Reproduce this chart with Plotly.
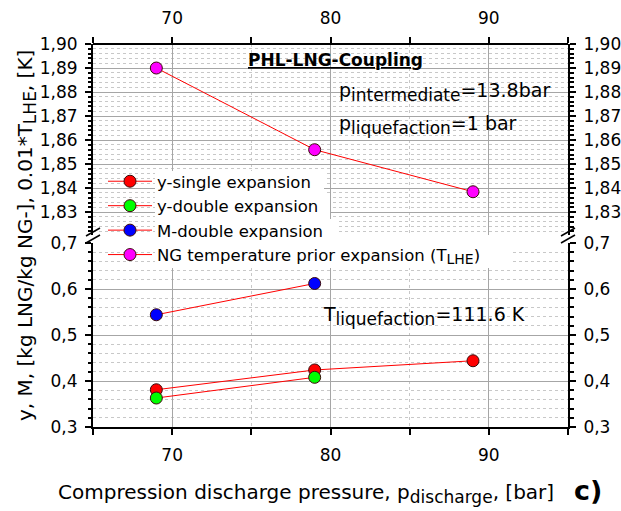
import plotly.graph_objects as go

# ---------------- data ----------------
pressure = [69, 79, 89]
y_single = [0.381, 0.424, 0.444]
pressure_double = [69, 79]
y_double = [0.363, 0.408]
m_double = [0.544, 0.612]
t_lhe_scaled = [1.890, 1.856, 1.8385]

series_names = ["y-single expansion", "y-double expansion", "M-double expansion",
                "NG temperature prior expansion (T<sub><span style='font-size:14px'>LHE</span></sub>)"]

# ---------------- geometry helpers ----------------
W, H = 621, 511
ML, MR, MT, MB = 93, 53, 44, 84
PW, PH = W - ML - MR, H - MT - MB
UP_BOTTOM, LOW_TOP = 235, 243


def xp(px):
    return (px - ML) / PW


def yp(py):
    return (H - MB - py) / PH


LOW_DOM = [0, yp(LOW_TOP)]
UP_DOM = [yp(UP_BOTTOM), 1]

FONT = "DejaVu Sans, Liberation Sans, Arial, sans-serif"
RED = "#ff0000"
EDGE = "#3b0a0a"

fig = go.Figure()


def add(xv, yv, color, name, yaxis):
    fig.add_trace(go.Scatter(
        x=xv, y=yv, mode="lines+markers", name=name, yaxis=yaxis,
        line=dict(color=RED, width=1),
        marker=dict(size=12, color=color, line=dict(color=EDGE, width=1)),
    ))


add(pressure, y_single, "#ff0000", series_names[0], "y")
add(pressure_double, y_double, "#00ff00", series_names[1], "y")
add(pressure_double, m_double, "#0000ff", series_names[2], "y")
add(pressure, t_lhe_scaled, "#ff00ff", series_names[3], "y2")

# invisible helpers to activate mirrored axes
for xa, ya, yv in [("x2", "y2", t_lhe_scaled), ("x", "y3", y_single), ("x", "y4", t_lhe_scaled)]:
    fig.add_trace(go.Scatter(x=pressure, y=yv, xaxis=xa, yaxis=ya, mode="markers",
                             marker=dict(opacity=0), showlegend=False, hoverinfo="skip"))

GRID = "#a6a6a6"
MINOR = "#c8c8c8"
tickfont = dict(family=FONT, size=17, color="black")

common_x = dict(range=[65, 95], tick0=70, dtick=10, ticks="outside", ticklen=6, tickwidth=1.5,
                tickcolor="black", showline=True, linecolor="black", linewidth=2,
                tickfont=tickfont, zeroline=False, automargin=False)


def yax(rng, dt, t0, fmt, mdt, grid, **kw):
    d = dict(range=rng, dtick=dt, tick0=t0, tickformat=fmt,
             ticks="outside", ticklen=6, tickwidth=1.5, tickcolor="black",
             showline=True, linecolor="black", linewidth=2, tickfont=tickfont,
             zeroline=False, anchor="x", ticklabelstandoff=4, automargin=False,
             showgrid=grid, gridcolor=GRID,
             minor=dict(dtick=mdt, ticks="outside", ticklen=3.5, tickcolor="black",
                        showgrid=grid, gridcolor=MINOR, griddash="dot"))
    d.update(kw)
    return d


fig.update_layout(
    width=W, height=H, autosize=False,
    margin=dict(l=ML, r=MR, t=MT, b=MB, autoexpand=False),
    paper_bgcolor="white", plot_bgcolor="white",
    separators=",.",
    showlegend=True,
    legend=dict(x=xp(103), y=yp(164), xanchor="left", yanchor="top",
                bgcolor="rgba(0,0,0,0)", borderwidth=0, itemwidth=44,
                font=dict(family=FONT, size=16.5, color="black"), tracegroupgap=0),
    xaxis=dict(**common_x, anchor="y", showgrid=True, gridcolor=GRID, gridwidth=1,
               ticklabelstandoff=6,
               minor=dict(tick0=65, dtick=5, ticks="outside", ticklen=6, tickcolor="black",
                          showgrid=True, gridcolor=MINOR, griddash="dot", gridwidth=1)),
    xaxis2=dict(**common_x, overlaying="x", side="top", anchor="free", position=1,
                showgrid=False, ticklabelstandoff=6,
                minor=dict(tick0=65, dtick=5, ticks="outside", ticklen=6, tickcolor="black",
                           showgrid=False)),
    yaxis=yax([0.3, 0.7], 0.1, 0.3, ".1f", 0.02, True, domain=LOW_DOM),
    yaxis2=yax([1.8205, 1.90], 0.01, 1.83, ".2f", 0.002, True, domain=UP_DOM),
    yaxis3=yax([0.3, 0.7], 0.1, 0.3, ".1f", 0.02, False, overlaying="y", side="right"),
    yaxis4=yax([1.8205, 1.90], 0.01, 1.83, ".2f", 0.002, False, overlaying="y2", side="right"),
)

shapes = []
# white backgrounds behind legend texts (hide gridlines, as in the original);
# drawn above the plot but below the legend layer
legend_text_boxes = [(171, 195, 324), (195, 219, 330), (219, 243, 336), (243, 268, 512)]
for top, bot, right in legend_text_boxes:
    shapes.append(dict(type="rect", xref="paper", yref="paper", layer="above",
                       x0=xp(155), x1=xp(right), y0=yp(bot), y1=yp(top),
                       fillcolor="white", line=dict(width=0)))

# break marks on both vertical axes
for side in (93, 568):
    for yc in (232, 239):
        shapes.append(dict(type="line", xref="paper", yref="paper", layer="above",
                           x0=xp(side - 7), y0=yp(yc + 4), x1=xp(side + 7), y1=yp(yc - 4),
                           line=dict(color="black", width=1.5)))
fig.update_layout(shapes=shapes)

ann = []


def txt(text, px, py, size, xanchor="left", angle=0):
    ann.append(dict(text=text, x=xp(px), y=yp(py), xref="paper", yref="paper",
                    xanchor=xanchor, yanchor="middle", showarrow=False, textangle=angle,
                    font=dict(family=FONT, size=size, color="black")))


def sub(s, size):
    return "<sub><span style='font-size:%dpx'>%s</span></sub>" % (size, s)


txt("<b><u>PHL-LNG-Coupling</u></b>", 335, 60, 17, xanchor="center")
txt("p" + sub("intermediate", 17) + "=13.8bar", 337, 92, 19)
txt("p" + sub("liquefaction", 17) + "=1 bar", 337, 125, 19)
txt("T" + sub("liquefaction", 17) + "=111.6 K", 321, 316, 19)
txt("Compression discharge pressure, p" + sub("discharge", 17) + ", [bar]", 306, 493, 20,
    xanchor="center")
txt("<b>c)</b>", 588, 490, 27, xanchor="center")
txt("y, M, [kg LNG/kg NG-], 0.01*T" + sub("LHE", 17) + ", [K]", 26, 236, 20,
    xanchor="center", angle=-90)
fig.update_layout(annotations=ann)

fig.write_html("out.html")
